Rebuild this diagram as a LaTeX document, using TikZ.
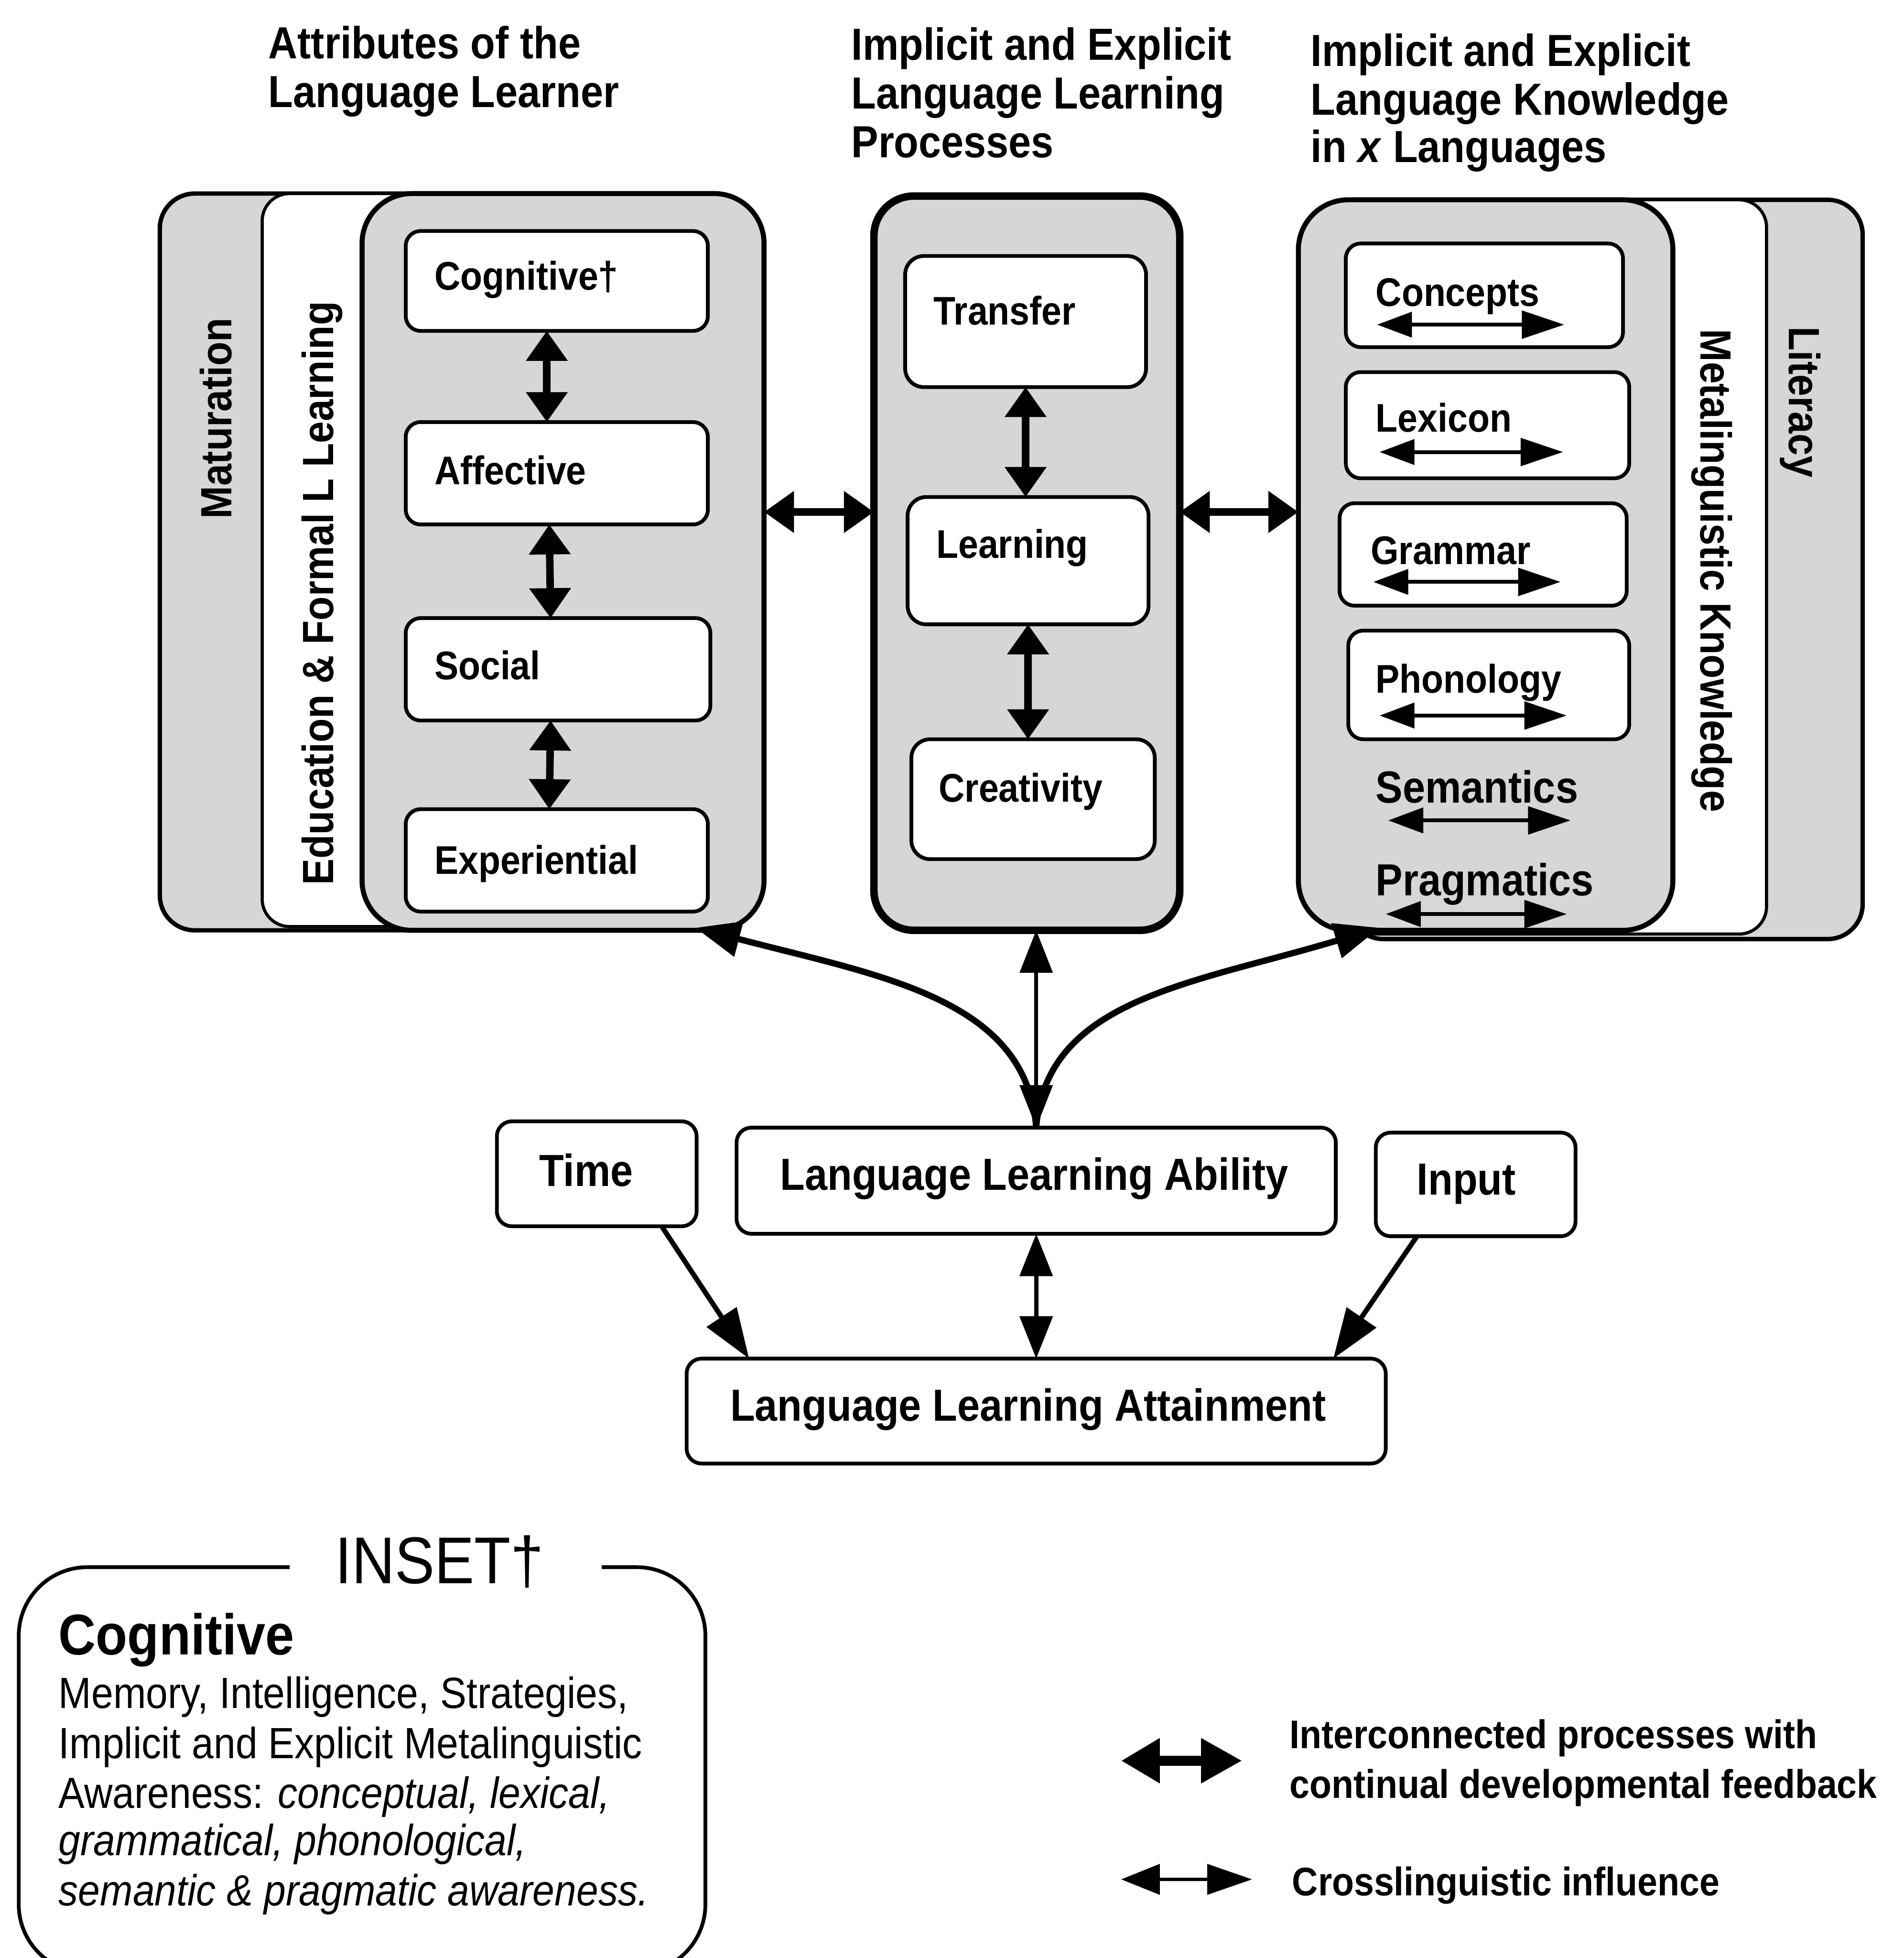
\documentclass[tikz,border=0pt]{standalone}
\usepackage{fontspec}
\setmainfont{Liberation Sans}
\newfontfamily\cf{Liberation Sans}[FakeStretch=0.9]
\usetikzlibrary{arrows.meta,calc}
\definecolor{speck}{gray}{0.84}

\begin{document}
\begin{tikzpicture}[x=1pt,y=-1pt,
  every node/.style={inner sep=0pt, outer sep=0pt},
  lbl/.style={font=\cf\bfseries\fontsize{32}{36}\selectfont, anchor=base west},
  lblL/.style={font=\cf\bfseries\fontsize{36}{40}\selectfont, anchor=base west},
  hdr/.style={font=\cf\bfseries\fontsize{36}{40}\selectfont, anchor=base west},
  vlbl/.style={font=\cf\bfseries\fontsize{35}{40}\selectfont},
  body/.style={font=\cf\fontsize{35}{40}\selectfont, anchor=base west},
  legtxt/.style={font=\cf\bfseries\fontsize{32}{36}\selectfont, anchor=base west},
  box/.style={draw, fill=white, line width=3pt, rounded corners=12pt},
  shell/.style={draw, fill=speck, line width=3.5pt, rounded corners=28pt},
  strip/.style={draw, fill=white, line width=2.5pt, rounded corners=22pt},
  core/.style={draw, fill=speck, line width=4pt, rounded corners=40pt},
  fb/.style={line width=6pt, arrows={Triangle[width=32pt,length=24pt]-Triangle[width=32pt,length=24pt]}},
  xl/.style={line width=3pt, arrows={Triangle[width=20pt,length=28pt]-Triangle[width=22pt,length=34pt]}},
  curve/.style={line width=5pt, arrows={-Triangle[width=28pt,length=36pt]}},
  slim/.style={line width=3pt, arrows={Triangle[width=26pt,length=34pt]-Triangle[width=26pt,length=34pt]}},
  onearrow/.style={line width=4pt, arrows={-Triangle[width=28pt,length=40pt]}}
]
\useasboundingbox (0,0) rectangle (1525,1568);

% ---------- column headings ----------
\node[hdr] (h1a) at (215,47) {Attributes of the};
\node[hdr] (h1b) at (215,86) {Language Learner};
\node[hdr] (h2a) at (682,48) {Implicit and Explicit};
\node[hdr] (h2b) at (682,87) {Language Learning};
\node[hdr] (h2c) at (682,126) {Processes};
\node[hdr] (h3a) at (1050,53) {Implicit and Explicit};
\node[hdr] (h3b) at (1050,92) {Language Knowledge};
\node[hdr] (h3c) at (1050,130) {in \textit{x} Languages};

% ---------- learner attributes (layers tucked under the core box) ----------
\node[shell, minimum width=432pt, minimum height=590pt] (mat) at (344,450) {};
\node[strip, minimum width=350pt, minimum height=587pt] (edu) at (385,448.5) {};
\node[core, minimum width=322pt, minimum height=590pt] (inL) at (451,450) {};
\node[vlbl, rotate=90] (tmat) at (173,335) {Maturation};
\node[vlbl, rotate=90] (tedu) at (258,475) {Education \& Formal L Learning};

\node[box, minimum width=242pt, minimum height=80pt] (cog) at (446,225) {};
\node[box, minimum width=242pt, minimum height=82pt] (aff) at (446,379) {};
\node[box, minimum width=244pt, minimum height=82pt] (soc) at (447,536) {};
\node[box, minimum width=242pt, minimum height=82pt] (exp) at (446,689) {};
\node[lbl] (tcog) at (348,232) {Cognitive†};
\node[lbl] (taff) at (348,388) {Affective};
\node[lbl] (tsoc) at (348,544) {Social};
\node[lbl] (texp) at (348,700) {Experiential};
\draw[fb] ([xshift=-8pt]cog.south) -- ([xshift=-8pt]aff.north);
\draw[fb] ([xshift=-6pt]aff.south) -- ([xshift=-6pt]soc.north);
\draw[fb] ([xshift=-6pt]soc.south) -- ([xshift=-6pt]exp.north);

% ---------- learning processes ----------
\node[core, line width=6pt, rounded corners=32pt, minimum width=245pt, minimum height=588pt] (mid) at (822.5,451) {};
\node[box, minimum width=193pt, minimum height=105pt, rounded corners=15pt] (tra) at (821.5,257.5) {};
\node[box, minimum width=193pt, minimum height=102pt, rounded corners=15pt] (lea) at (823.5,449) {};
\node[box, minimum width=195pt, minimum height=96pt, rounded corners=15pt] (cre) at (827.5,640) {};
\node[lbl] (ttra) at (748,260) {Transfer};
\node[lbl] (tlea) at (750,447) {Learning};
\node[lbl] (tcre) at (752,642) {Creativity};
\draw[fb] (tra.south) -- (tra.south |- lea.north);
\draw[fb] (lea.south) -- (lea.south |- cre.north);

% ---------- language knowledge (layers tucked under the core box) ----------
\node[shell, minimum width=412pt, minimum height=592pt] (lit) at (1286,456) {};
\node[strip, minimum width=335pt, minimum height=588pt] (met) at (1247.5,454) {};
\node[core, minimum width=300pt, minimum height=585pt] (inR) at (1190,452.5) {};
\node[vlbl, rotate=-90] (tmet) at (1371,457) {Metalinguistic Knowledge};
\node[vlbl, rotate=-90] (tlit) at (1442,322) {Literacy};

\node[box, minimum width=222pt, minimum height=83pt] (con) at (1189,236.5) {};
\node[box, minimum width=227pt, minimum height=85pt] (lex) at (1191.5,340.5) {};
\node[box, minimum width=230pt, minimum height=82pt] (gra) at (1188,444) {};
\node[box, minimum width=225pt, minimum height=87pt] (pho) at (1192.5,548.5) {};
\node[lbl] (tcon) at (1102,245) {Concepts};
\node[lbl] (tlex) at (1102,346) {Lexicon};
\node[lbl] (tgra) at (1098,452) {Grammar};
\node[lbl] (tpho) at (1102,555) {Phonology};
\node[lblL] (tsem) at (1102,643) {Semantics};
\node[lblL] (tpra) at (1102,717) {Pragmatics};
\draw[xl] ($(con.south west)+(25,-18)$) -- ($(con.south west)+(175,-18)$);
\draw[xl] ($(lex.south west)+(27,-21)$) -- ($(lex.south west)+(174,-21)$);
\draw[xl] ($(gra.south west)+(27,-19)$) -- ($(gra.south west)+(177,-19)$);
\draw[xl] ($(pho.south west)+(25,-19)$) -- ($(pho.south west)+(175,-19)$);
\draw[xl] ($(tsem.base west)+(10,14)$) -- ($(tsem.base west)+(156,14)$);
\draw[xl] ($(tpra.base west)+(8,15)$) -- ($(tpra.base west)+(153,15)$);

% ---------- links between the three columns ----------
\coordinate (hy) at (0,410);
\draw[fb] (inL.east |- hy) -- (mid.west |- hy);
\draw[fb] (mid.east |- hy) -- (inR.west |- hy);

% ---------- ability and attainment ----------
\node[box, minimum width=160pt, minimum height=84pt] (time) at (478,940) {};
\node[box, minimum width=480pt, minimum height=85pt] (lla) at (830,945.5) {};
\node[box, minimum width=160pt, minimum height=83pt] (inp) at (1182,948.5) {};
\node[box, minimum width=560pt, minimum height=84pt] (att) at (830,1130) {};
\node[lblL] (ttime) at (432,950) {Time};
\node[lblL] (tlla) at (625,953) {Language Learning Ability};
\node[lblL] (tinp) at (1135,957) {Input};
\node[lblL] (tatt) at (585,1138) {Language Learning Attainment};

\draw[curve] (lla.north) .. controls (822,800) and (707,782) .. ($(inL.south east)+(-55,-2)$);
\draw[curve] (lla.north) .. controls (838,800) and (955,788) .. ($(inR.south west)+(65,-2)$);
\draw[slim] (lla.north) -- (lla.north |- mid.south);

\draw[onearrow] ([xshift=52pt]time.south) -- ([xshift=-230pt]att.north);
\draw[onearrow] ([xshift=-47pt]inp.south) -- ([xshift=238pt]att.north);
\draw[slim, line width=3.5pt] (lla.south) -- (att.north);

% ---------- inset ----------
\node[font=\cf\fontsize{53}{60}\selectfont, anchor=base] (ins) at (352,1268) {INSET†};
\draw[line width=3pt, rounded corners=55pt] (232,1255) -- (15,1255) -- (15,1580) -- (565,1580) -- (565,1255) -- (482,1255);
\node[font=\cf\bfseries\fontsize{46}{50}\selectfont, anchor=base west] (icog) at (47,1325) {Cognitive};
\node[body] (ib1) at (47,1368) {Memory, Intelligence, Strategies,};
\node[body] (ib2) at (47,1408) {Implicit and Explicit Metalinguistic};
\node[body] (ib3) at (47,1448) {Awareness: \textit{conceptual, lexical,}};
\node[body] (ib4) at (47,1486) {\textit{grammatical, phonological,}};
\node[body] (ib5) at (47,1526) {\textit{semantic \& pragmatic awareness.}};

% ---------- legend ----------
\coordinate (la1) at (898,1410);
\coordinate (lb1) at (995,1410);
\draw[line width=8pt, arrows={Triangle[width=34pt,length=31pt]-Triangle[width=34pt,length=33pt]}] (la1) -- (lb1);
\node[legtxt] (lt1) at (1033,1400) {Interconnected processes with};
\node[legtxt] (lt2) at (1033,1440) {continual developmental feedback};
\coordinate (la2) at (898,1505);
\coordinate (lb2) at (1003,1505);
\draw[line width=3pt, arrows={Triangle[width=24pt,length=31pt]-Triangle[width=24pt,length=36pt]}] (la2) -- (lb2);
\node[legtxt] (lt3) at (1035,1518) {Crosslinguistic influence};
\end{tikzpicture}
\end{document}
